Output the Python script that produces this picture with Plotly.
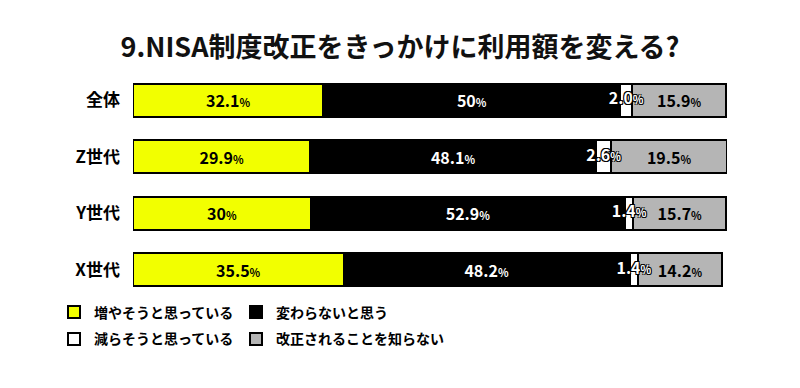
import plotly.graph_objects as go

categories = ["全体", "Z世代", "Y世代", "X世代"]
increase = [32.1, 29.9, 30, 35.5]        # 増やそうと思っている
unchanged = [50, 48.1, 52.9, 48.2]        # 変わらないと思う
decrease = [2.0, 2.6, 1.4, 1.4]           # 減らそうと思っている
unaware = [15.9, 19.5, 15.7, 14.2]        # 改正されることを知らない

series_names = ["増やそうと思っている", "変わらないと思う", "減らそうと思っている", "改正されることを知らない"]
title_text = "9.NISA制度改正をきっかけに利用額を変える?"

FONT = "Noto Sans CJK JP, Noto Sans, sans-serif"
YELLOW = "#F2FF00"
BLACK = "#000000"
WHITE = "#FFFFFF"
GRAY = "#B5B5B5"

# page body adds an 8px offset; layout is designed in figure coordinates
L, R, T, B = 125, 81, 63.5, 97.5
PLOT_W = 800 - L - R
PLOT_H = 388 - T - B


def fmt(v, fixed=False):
    s = f"{v:.1f}" if fixed else f"{v:g}"
    return f"<b>{s}</b><span style='font-size:11px'><b>%</b></span>"


fig = go.Figure()

specs = [
    (increase, series_names[0], YELLOW, BLACK, "legend"),
    (unchanged, series_names[1], BLACK, WHITE, "legend2"),
    (decrease, series_names[2], WHITE, BLACK, "legend3"),
    (unaware, series_names[3], GRAY, BLACK, "legend4"),
]

for vals, name, color, tcolor, lg in specs:
    show_text = vals is not decrease
    fig.add_trace(go.Bar(
        y=categories, x=vals, name=name, orientation="h",
        marker=dict(color=color, line=dict(color=BLACK, width=2)),
        text=[fmt(v) for v in vals] if show_text else None,
        textposition="inside" if show_text else "none",
        insidetextanchor="middle",
        constraintext="none",
        textfont=dict(family=FONT, size=16, color=tcolor),
        legend=lg,
        hoverinfo="skip",
    ))

# labels for the thin white segment, drawn above the bars
dec_x = [a + b + c / 2 for a, b, c in zip(increase, unchanged, decrease)]
outline = "-1px -1px 0 #000, 1px -1px 0 #000, -1px 1px 0 #000, 1px 1px 0 #000"
fig.add_trace(go.Scatter(
    x=dec_x, y=categories, mode="text",
    text=[fmt(v, fixed=True) for v in decrease],
    textposition="middle center",
    textfont=dict(family=FONT, size=16, color=WHITE, shadow=outline),
    showlegend=False, hoverinfo="skip",
))

legend_common = dict(
    orientation="h", xref="paper", yref="paper", xanchor="left", yanchor="middle",
    itemwidth=30,
    font=dict(family=FONT, size=14, color="black", weight="bold"),
    bgcolor="rgba(0,0,0,0)",
)
col_x = [(46 - L) / PLOT_W, (228 - L) / PLOT_W]
row_y = [(T + PLOT_H - 305) / PLOT_H, (T + PLOT_H - 332) / PLOT_H]

fig.update_layout(
    barmode="stack",
    bargap=0.42,
    width=800, height=388,
    margin=dict(l=L, r=R, t=T, b=B, autoexpand=False),
    paper_bgcolor="white", plot_bgcolor="white",
    font=dict(family=FONT, color="black"),
    title=dict(
        text="<b>" + title_text + "</b>",
        x=392 / 800, xref="container", xanchor="center",
        y=1 - 40 / 388, yref="container", yanchor="middle",
        font=dict(family=FONT, size=27, color="#111111"),
    ),
    xaxis=dict(range=[0, 100.1], visible=False, fixedrange=True),
    yaxis=dict(
        categoryorder="array", categoryarray=categories, autorange="reversed",
        showgrid=False, zeroline=False, showline=False, ticks="",
        ticklabelstandoff=12, automargin=False,
        tickfont=dict(family=FONT, size=17, color="black", weight="bold"),
    ),
    legend=dict(legend_common, x=col_x[0], y=row_y[0]),
    legend2=dict(legend_common, x=col_x[1], y=row_y[0]),
    legend3=dict(legend_common, x=col_x[0], y=row_y[1]),
    legend4=dict(legend_common, x=col_x[1], y=row_y[1]),
    showlegend=True,
)

fig.write_html("out.html")
